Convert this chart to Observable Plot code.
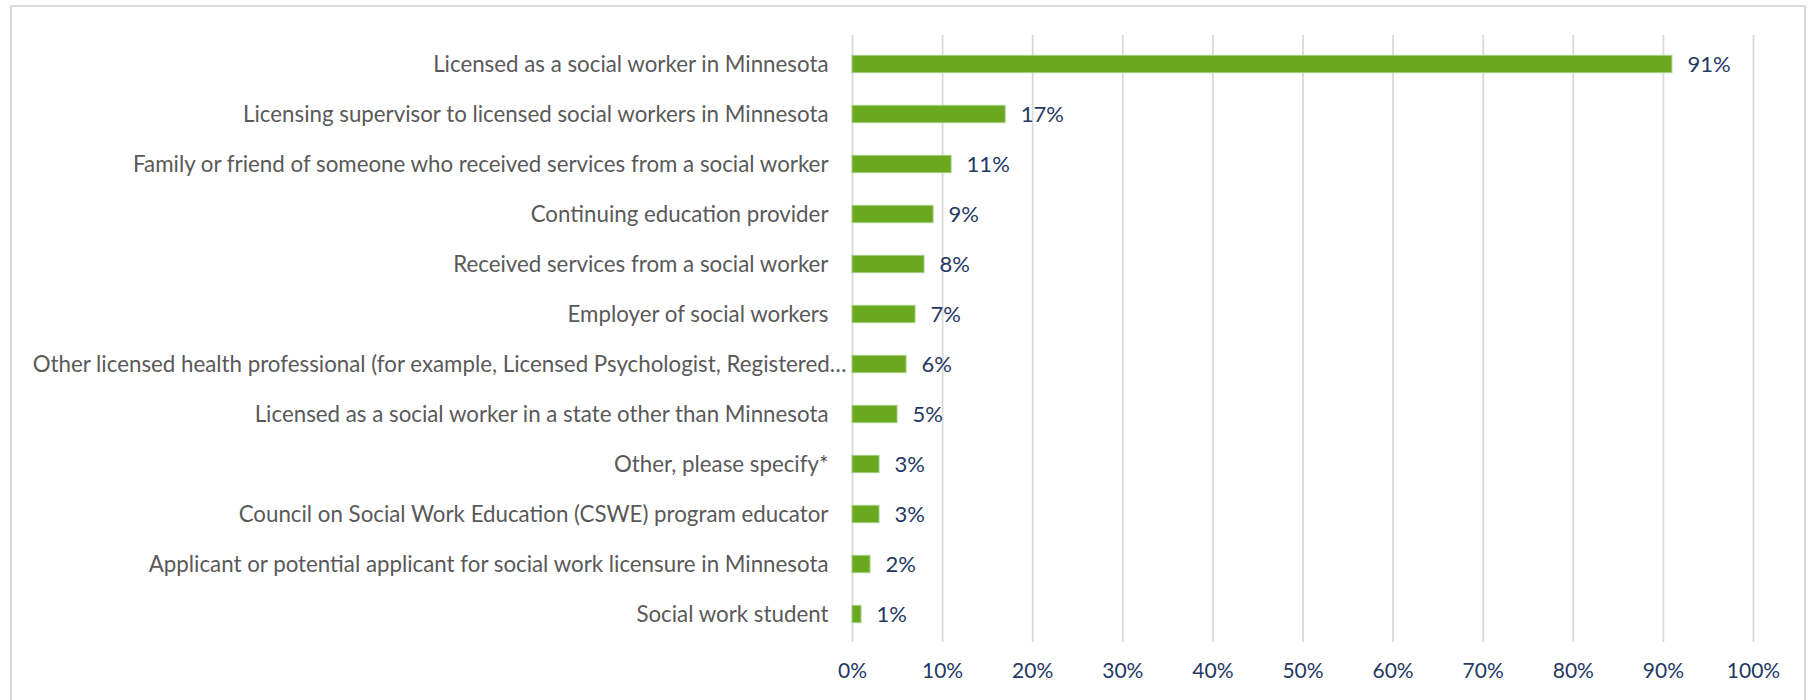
<!DOCTYPE html>
<html>
<head>
<meta charset="utf-8">
<script src="https://cdn.jsdelivr.net/npm/d3@7"></script>
<script src="https://cdn.jsdelivr.net/npm/@observablehq/plot@0.6"></script>
<style>
  html, body { margin: 0; padding: 0; background: #fff; }
  #wrap { position: relative; width: 1812px; height: 700px; overflow: hidden; }
  #frame { position: absolute; left: 10px; top: 5px; width: 1796px; height: 720px; border: 2px solid #dadada; box-sizing: border-box; }
  #chart { position: absolute; left: 0; top: 0; line-height: 0; }
  #chart svg { display: block; }
</style>
</head>
<body>
<div id="wrap"><div id="frame"></div><div id="chart"></div></div>
<script>
const categories = [
  "Licensed as a social worker in Minnesota",
  "Licensing supervisor to licensed social workers in Minnesota",
  "Family or friend of someone who received services from a social worker",
  "Continuing education provider",
  "Received services from a social worker",
  "Employer of social workers",
  "Other licensed health professional (for example, Licensed Psychologist, Registered…",
  "Licensed as a social worker in a state other than Minnesota",
  "Other, please specify*",
  "Council on Social Work Education (CSWE) program educator",
  "Applicant or potential applicant for social work licensure in Minnesota",
  "Social work student"
];
const values = [0.91, 0.17, 0.11, 0.09, 0.08, 0.07, 0.06, 0.05, 0.03, 0.03, 0.02, 0.01];
const xTicks = [0, 0.1, 0.2, 0.3, 0.4, 0.5, 0.6, 0.7, 0.8, 0.9, 1.0];

const data = categories.map((c, i) => ({category: c, value: values[i]}));
const longLabel = categories[6];

const FONT = "Lato, 'Open Sans', sans-serif";
const pct = d3.format(".0%");

const chart = Plot.plot({
  width: 1812,
  height: 700,
  marginLeft: 852,
  marginRight: 59,
  marginTop: 35,
  marginBottom: 58,
  style: {fontFamily: FONT, fontSize: "22px", background: "transparent"},
  x: {domain: [0, 1], axis: null},
  y: {domain: categories, padding: 0, axis: null},
  marks: [
    Plot.ruleX(xTicks, {stroke: "#d9d9d9", strokeWidth: 1.8}),
    Plot.barX(data, {
      x1: 0, x2: "value", y: "category",
      fill: "#6aa81f", stroke: "#a8d08a", strokeWidth: 1,
      insetTop: 16.3, insetBottom: 16.3
    }),
    Plot.text(data, {
      x: "value", y: "category", text: d => pct(d.value),
      dx: 15, textAnchor: "start", fill: "#1f3864", fontSize: 22
    }),
    Plot.text(data.filter(d => d.category !== longLabel), {
      x: 0, y: "category", text: "category",
      dx: -24, textAnchor: "end", fill: "#595959", fontSize: 22.3
    }),
    Plot.text(data.filter(d => d.category === longLabel), {
      x: 0, y: "category", text: "category",
      dx: -6, textAnchor: "end", fill: "#595959", fontSize: 22.3
    }),
    Plot.axisX(xTicks, {
      tickSize: 0, tickPadding: 21, tickFormat: pct, label: null,
      fill: "#1f3864", fontSize: 21, anchor: "bottom"
    })
  ]
});
document.getElementById("chart").appendChild(chart);
</script>
</body>
</html>
